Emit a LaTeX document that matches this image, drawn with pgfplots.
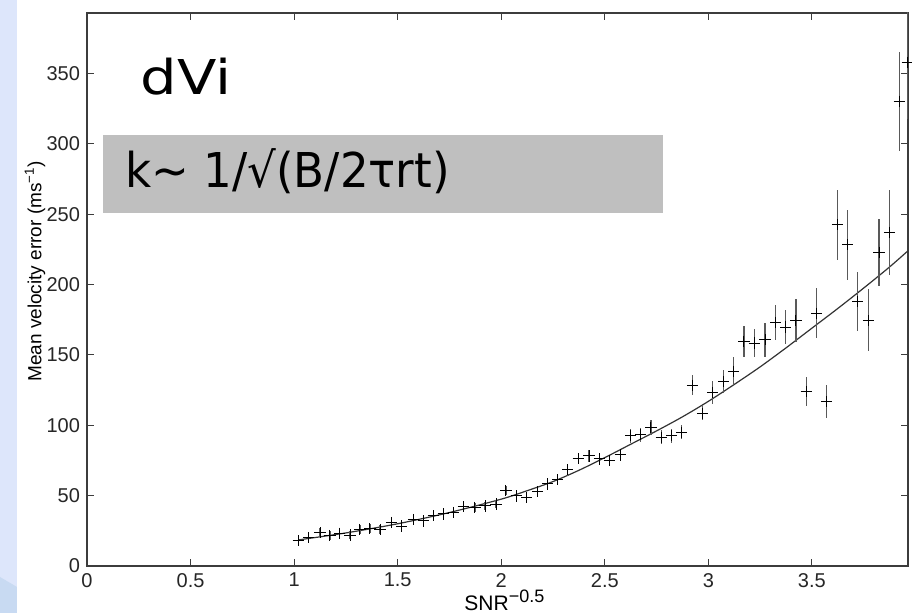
\documentclass[border=0pt]{standalone}
\usepackage{fontspec}
\setmainfont{Liberation Sans}
\newfontfamily\dvfont{DejaVu Sans}
\usepackage{pgfplots}
\pgfplotsset{compat=1.18}
\usepackage{pgfplotstable}
\definecolor{stripblue}{RGB}{221,230,251}
\definecolor{stripdark}{RGB}{200,218,242}
\definecolor{boxgray}{RGB}{191,191,191}
\definecolor{axgray}{RGB}{60,60,60}

\pgfplotstableread{
x y e
1.02 18 3
1.07 20 3
1.125 23.7 3
1.173 21.6 3
1.22 23.2 3
1.27 22 3
1.318 26 3
1.366 26.5 3
1.415 26 3
1.47 31 3
1.52 28.4 3
1.576 33 3
1.624 32 3
1.672 35.6 3
1.72 37 3
1.769 38 3
1.817 42 3
1.873 41.5 3
1.922 42.7 3
1.975 44 3
2.023 53.6 3.5
2.075 49.8 3.5
2.123 48.8 3.5
2.175 52.8 3.5
2.223 58.3 3.5
2.273 61.2 3.5
2.321 68.3 4
2.372 76.3 4
2.424 78.2 4
2.474 76.1 4
2.522 74.9 4
2.574 78.9 4
2.625 92.5 5
2.674 93.2 5
2.723 98.4 5
2.772 91.5 5
2.823 92.5 5
2.872 95.1 5
2.923 128.5 7
2.972 108.5 5
3.021 123.3 8
3.073 131 8
3.121 138.2 10
3.172 159.5 11
3.222 158.4 10
3.274 160.7 12
3.325 173 12.5
3.374 169.8 12
3.423 174.5 15
3.473 124 10.5
3.523 179.7 18
3.572 116.9 11.5
3.623 242.5 25
3.673 228.3 25
3.721 188 21
3.773 174.5 22
3.824 222.9 24
3.874 237 30
3.922 330.2 35
3.96 358 40
}\meas

\pgfplotstableread{
x y
1.02 18.5
1.25 23.5
1.5 30
1.75 38
2.0 47.5
2.125 53.5
2.25 60
2.375 68
2.5 77
2.625 86.5
2.75 96
2.875 106
3.0 117
3.125 129
3.25 141.5
3.375 155
3.5 169
3.625 183
3.75 197.5
3.875 212.5
3.964 224
}\fit

\begin{document}
\begin{tikzpicture}
\useasboundingbox (-43.5pt,-23.5pt) rectangle (412.5pt,283pt);
\fill[white] (-43.5pt,-23.5pt) rectangle (412.5pt,283pt);
\fill[stripblue] (-43.5pt,-23.5pt) rectangle (-35pt,283pt);
\fill[stripdark] (-43.5pt,-23.5pt) -- (-43.5pt,-5.5pt) -- (-35pt,-10.5pt) -- (-35pt,-23.5pt) -- cycle;
\begin{axis}[
  at={(0,0)}, anchor=south west,
  scale only axis, width=410.5pt, height=276.5pt,
  xmin=0, xmax=3.964, ymin=0, ymax=393,
  xtick={0,0.5,1,1.5,2,2.5,3,3.5},
  xticklabels={0,0.5,1,1.5,2,2.5,3,3.5},
  ytick={0,50,100,150,200,250,300,350},
  tick align=inside,
  major tick length=3.5pt,
  axis line style={axgray, line width=0.75pt},
  every tick/.style={axgray, line width=0.5pt},
  tick label style={font=\fontsize{10}{12}\selectfont, text=black!85},
  /pgf/number format/assume math mode=true,
  xlabel={SNR\textsuperscript{\fontsize{9}{10}\selectfont −0.5}},
  xlabel style={at={(axis description cs:0.509,-0.0796)}, anchor=base, font=\fontsize{10.5}{12}\selectfont},
  ylabel={Mean velocity error (ms\textsuperscript{−1})},
  ylabel style={at={(axis description cs:-0.0633,0.533)}, anchor=center, font=\fontsize{9.5}{11}\selectfont},
]
\addplot[black!80, line width=0.6pt, smooth, no markers] table[x=x,y=y]{\fit};
\addplot[only marks, mark=+, mark size=2.8pt, mark options={black, line width=0.5pt},
  error bars/.cd, y dir=both, y explicit,
  error bar style={black!65, line width=0.6pt}, error mark=none]
  table[x=x, y=y, y error=e]{\meas};
\end{axis}
\fill[boxgray] (8pt,176.5pt) rectangle (288pt,215.5pt);
\node[anchor=base west, inner sep=0, xscale=0.94, font=\dvfont\fontsize{24}{28}\selectfont] at (19pt,189pt) {k\textasciitilde{} 1/√(B/2τrt)};
\node[anchor=base west, inner sep=0, xscale=1.2, font=\dvfont\fontsize{24}{28}\selectfont] at (26.5pt,235.5pt) {dVi};
\end{tikzpicture}
\end{document}
